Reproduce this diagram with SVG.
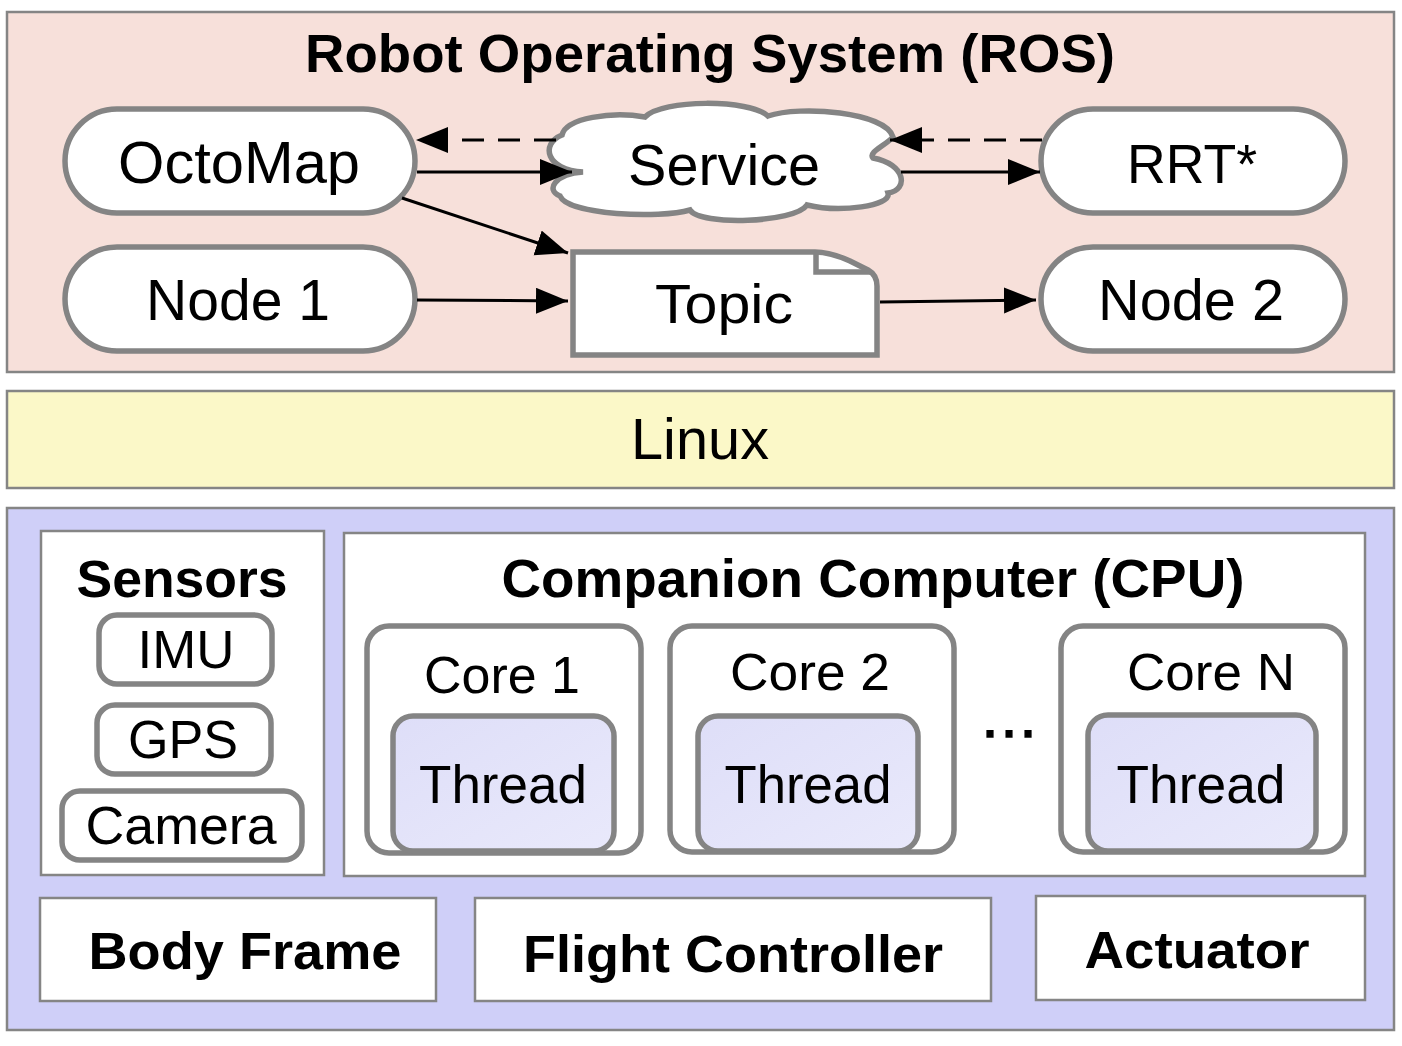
<svg xmlns="http://www.w3.org/2000/svg" width="1402" height="1046" viewBox="0 0 1402 1046">
<style>
text{font-family:"Liberation Sans",Arial,Helvetica,sans-serif;fill:#000;text-anchor:middle}
.b{font-weight:bold}
.layer{stroke:#858585;stroke-width:2.5}
.node{fill:#fff;stroke:#848484;stroke-width:5.5}
.box{fill:#fff;stroke:#858585;stroke-width:2.5}
.thr{fill:url(#tg);stroke:#848484;stroke-width:5.5}
.c{stroke:#000;stroke-width:3;fill:none}
.d{stroke-dasharray:22 14}
</style>
<defs>
<marker id="ah" markerUnits="userSpaceOnUse" markerWidth="34" markerHeight="28" refX="32" refY="13" orient="auto">
<path d="M0,0 L32,13 L0,26 Z" fill="#000"/>
</marker>
<linearGradient id="tg" x1="0" y1="0" x2="1" y2="1">
<stop offset="0" stop-color="#dedef8"/>
<stop offset="1" stop-color="#e9e9fb"/>
</linearGradient>
</defs>

<g id="ros">
<rect class="layer" x="7" y="12" width="1387" height="360" fill="#f7e0da"/>
<text class="b" x="710" y="72" font-size="54" textLength="810" lengthAdjust="spacingAndGlyphs">Robot Operating System (ROS)</text>
</g>

<g id="octomap">
<rect class="node" x="65" y="109" width="350" height="104" rx="52"/>
<text x="239" y="183" font-size="60" textLength="242" lengthAdjust="spacingAndGlyphs">OctoMap</text>
</g>
<g id="node1">
<rect class="node" x="65" y="247" width="350" height="104" rx="52"/>
<text x="238" y="320" font-size="58" textLength="184" lengthAdjust="spacingAndGlyphs">Node 1</text>
</g>
<g id="rrt">
<rect class="node" x="1041" y="109" width="304" height="104" rx="52"/>
<text x="1192" y="183" font-size="56" textLength="130" lengthAdjust="spacingAndGlyphs">RRT*</text>
</g>
<g id="node2">
<rect class="node" x="1041" y="247" width="304" height="104" rx="52"/>
<text x="1191" y="320" font-size="58" textLength="186" lengthAdjust="spacingAndGlyphs">Node 2</text>
</g>
<g id="service">
<path class="node" d="M583,172 C546,170 540,144 562,135 C566,118 612,111 645,117 C662,99 750,99 768,116 C800,105 886,112 893,137 C885,146 868,152 873,158 C906,164 909,190 888,193 C892,206 840,213 807,205 C795,223 700,226 690,210 C660,219 568,215 560,196 C545,190 555,174 583,172 Z"/>
<text x="724" y="185" font-size="57" textLength="192" lengthAdjust="spacingAndGlyphs">Service</text>
</g>
<g id="topic">
<path class="node" d="M573,252 L815,252 Q830,252 850,261 L868,270 Q877,275 877,286 L877,355 L573,355 Z"/>
<path d="M816,253 L816,272 L870,272" fill="none" stroke="#848484" stroke-width="5.5"/>
<text x="724" y="323" font-size="56" textLength="138" lengthAdjust="spacingAndGlyphs">Topic</text>
</g>

<g id="connectors">
<line class="c d" x1="556" y1="140" x2="416" y2="140" marker-end="url(#ah)"/>
<line class="c" x1="417" y1="172" x2="572" y2="172" marker-end="url(#ah)"/>
<line class="c d" x1="1042" y1="140" x2="890" y2="140" marker-end="url(#ah)"/>
<line class="c" x1="901" y1="172" x2="1040" y2="172" marker-end="url(#ah)"/>
<line class="c" x1="402" y1="198" x2="568" y2="253" marker-end="url(#ah)"/>
<line class="c" x1="417" y1="300" x2="568" y2="301" marker-end="url(#ah)"/>
<line class="c" x1="880" y1="302" x2="1036" y2="300" marker-end="url(#ah)"/>
</g>

<g id="linux">
<rect class="layer" x="7" y="391" width="1387" height="97" fill="#fbf8c8"/>
<text x="700" y="459" font-size="58" textLength="138" lengthAdjust="spacingAndGlyphs">Linux</text>
</g>

<g id="hardware">
<rect class="layer" x="7" y="508" width="1387" height="522" fill="#cfcff8"/>
</g>

<g id="sensors">
<rect class="box" x="41" y="531" width="283" height="344"/>
<text class="b" x="182" y="597" font-size="51" textLength="211" lengthAdjust="spacingAndGlyphs">Sensors</text>
</g>
<g id="imu">
<rect class="node" x="99" y="615" width="173" height="69" rx="18"/>
<text x="186" y="668" font-size="54" textLength="97" lengthAdjust="spacingAndGlyphs">IMU</text>
</g>
<g id="gps">
<rect class="node" x="97" y="705" width="174" height="69" rx="18"/>
<text x="183" y="758" font-size="54" textLength="110" lengthAdjust="spacingAndGlyphs">GPS</text>
</g>
<g id="camera">
<rect class="node" x="62" y="791" width="240" height="69" rx="18"/>
<text x="181" y="844" font-size="54" textLength="191" lengthAdjust="spacingAndGlyphs">Camera</text>
</g>

<g id="companion">
<rect class="box" x="344" y="533" width="1021" height="343"/>
<text class="b" x="873" y="597" font-size="54" textLength="743" lengthAdjust="spacingAndGlyphs">Companion Computer (CPU)</text>
<text x="1009" y="737" font-size="60" stroke="#000" stroke-width="1.5">…</text>
</g>

<g id="core1">
<rect class="node" x="367" y="626" width="274" height="227" rx="22"/>
<text x="502" y="693" font-size="52" textLength="156" lengthAdjust="spacingAndGlyphs">Core 1</text>
</g>
<g id="thread1">
<rect class="thr" x="393" y="716" width="221" height="135" rx="20"/>
<text x="503" y="803" font-size="53" textLength="168" lengthAdjust="spacingAndGlyphs">Thread</text>
</g>
<g id="core2">
<rect class="node" x="670" y="626" width="284" height="226" rx="22"/>
<text x="810" y="690" font-size="52" textLength="160" lengthAdjust="spacingAndGlyphs">Core 2</text>
</g>
<g id="thread2">
<rect class="thr" x="698" y="716" width="220" height="135" rx="20"/>
<text x="808" y="803" font-size="53" textLength="167" lengthAdjust="spacingAndGlyphs">Thread</text>
</g>
<g id="coreN">
<rect class="node" x="1061" y="626" width="284" height="226" rx="22"/>
<text x="1211" y="690" font-size="52" textLength="168" lengthAdjust="spacingAndGlyphs">Core N</text>
</g>
<g id="threadN">
<rect class="thr" x="1088" y="715" width="228" height="136" rx="20"/>
<text x="1201" y="803" font-size="53" textLength="169" lengthAdjust="spacingAndGlyphs">Thread</text>
</g>

<g id="bodyframe">
<rect class="box" x="40" y="898" width="396" height="103"/>
<text class="b" x="245" y="969" font-size="52" textLength="313" lengthAdjust="spacingAndGlyphs">Body Frame</text>
</g>
<g id="flightcontroller">
<rect class="box" x="475" y="898" width="516" height="103"/>
<text class="b" x="733" y="972" font-size="52" textLength="420" lengthAdjust="spacingAndGlyphs">Flight Controller</text>
</g>
<g id="actuator">
<rect class="box" x="1036" y="896" width="329" height="104"/>
<text class="b" x="1197" y="968" font-size="52" textLength="225" lengthAdjust="spacingAndGlyphs">Actuator</text>
</g>
</svg>
